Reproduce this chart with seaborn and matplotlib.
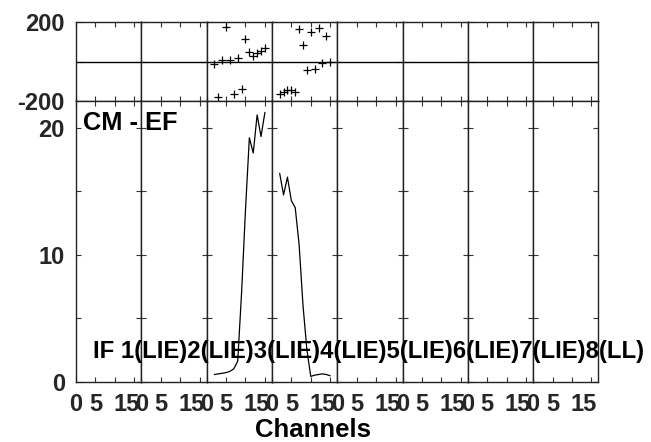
import matplotlib
matplotlib.use("Agg")
import matplotlib.pyplot as plt
import matplotlib.transforms as mtransforms
import seaborn as sns
import pandas as pd

# ---------------- data ----------------
if_numbers = [1, 2, 3, 4, 5, 6, 7, 8]
channels = [2, 3, 4, 5, 6, 7, 8, 9, 10, 11, 12, 13, 14, 15]
if3_amp = [0.55, 0.6, 0.65, 0.7, 0.8, 1.0, 1.6, 7.0, 13.5, 19.2, 18.0, 21.0, 19.3, 21.2]
if4_amp = [16.4, 14.7, 16.1, 14.25, 13.7, 10.8, 6.0, 2.5, 0.4, 0.5, 0.55, 0.6, 0.55, 0.45]
if3_phase = [-15, -181, 7, 176, 10, -163, 20, -141, 113, 49, 27, 41, 54, 66]
if4_phase = [-166, -154, -142, -142, -154, 163, 83, -41, 147, -36, 168, -10, 129, -2]

x_ticks = [0, 5, 10, 15]
x_ticklabels = ["0", "5", "", "15"]
amp_ticks = [0, 5, 10, 15, 20]
amp_ticklabels = ["0", "", "10", "", "20"]
phase_ticks = [-200, 0, 200]
phase_ticklabels = ["-200", "", "200"]
source_label = "CM - EF"
if_label = "IF 1(LIE)2(LIE)3(LIE)4(LIE)5(LIE)6(LIE)7(LIE)8(LL)"
x_label = "Channels"

rows = []
for ch, a, p in zip(channels, if3_amp, if3_phase):
    rows.append({"IF": 3, "channel": ch, "amp": a, "phase": p})
for ch, a, p in zip(channels, if4_amp, if4_phase):
    rows.append({"IF": 4, "channel": ch, "amp": a, "phase": p})
df = pd.DataFrame(rows)

# ---------------- style ----------------
sns.set_theme(style="white")
plt.rcParams["font.family"] = ["Liberation Sans", "DejaVu Sans"]
plt.rcParams["font.weight"] = "bold"

W, H = 651, 442
fig = plt.figure(figsize=(W / 100, H / 100), dpi=100)
gs = fig.add_gridspec(
    2, 8,
    left=76 / W, right=598.4 / W, top=1 - 22 / H, bottom=1 - 381.5 / H,
    wspace=0, hspace=0, height_ratios=[79, 280.5],
)

tick_fs = 17
shift = mtransforms.ScaledTranslation(-8 / 100, 0, fig.dpi_scale_trans)

for i, ifn in enumerate(if_numbers):
    axp = fig.add_subplot(gs[0, i])
    axa = fig.add_subplot(gs[1, i])
    sub = df[df["IF"] == ifn]
    if len(sub):
        sns.scatterplot(data=sub, x="channel", y="phase", marker="+", s=40,
                        color="black", linewidth=0.9, ax=axp, legend=False)
        sns.lineplot(data=sub, x="channel", y="amp", color="black",
                     linewidth=0.9, estimator=None, ax=axa, legend=False)
    axp.axhline(0, color="black", linewidth=1.0)

    for ax in (axp, axa):
        ax.set_xlim(0, 16.8)
        ax.set_xlabel("")
        ax.set_ylabel("")
        for s in ax.spines.values():
            s.set_color("#222222")
            s.set_linewidth(1.0)
        ax.tick_params(direction="in", length=3.8, width=0.8, color="#333333",
                       top=True, bottom=True, left=True, right=True,
                       labelsize=tick_fs, pad=8)
        ax.set_xticks(x_ticks)

    axp.set_ylim(-200, 200)
    axp.set_yticks(phase_ticks)
    axa.set_ylim(0, 22.1)
    axa.set_yticks(amp_ticks)

    axp.set_xticklabels([])
    axa.set_xticklabels(x_ticklabels, fontweight="bold")
    for lbl in axa.get_xticklabels():
        if lbl.get_text() == "15":
            lbl.set_transform(lbl.get_transform() + shift)

    if i == 0:
        axp.set_yticklabels(phase_ticklabels, fontweight="bold")
        axa.set_yticklabels(amp_ticklabels, fontweight="bold")
    else:
        axp.set_yticklabels([])
        axa.set_yticklabels([])

fig.text(83 / W, 1 - 130 / H, source_label, fontsize=18.3, fontweight="bold",
         ha="left", va="baseline", color="black")
fig.text(93 / W, 1 - 358 / H, if_label, fontsize=17.2, fontweight="bold",
         ha="left", va="baseline", color="black")
fig.text(313 / W, 1 - 430 / H, x_label, fontsize=18.5, fontweight="bold",
         ha="center", va="center", color="black")

fig.savefig("out.png", dpi=100)
